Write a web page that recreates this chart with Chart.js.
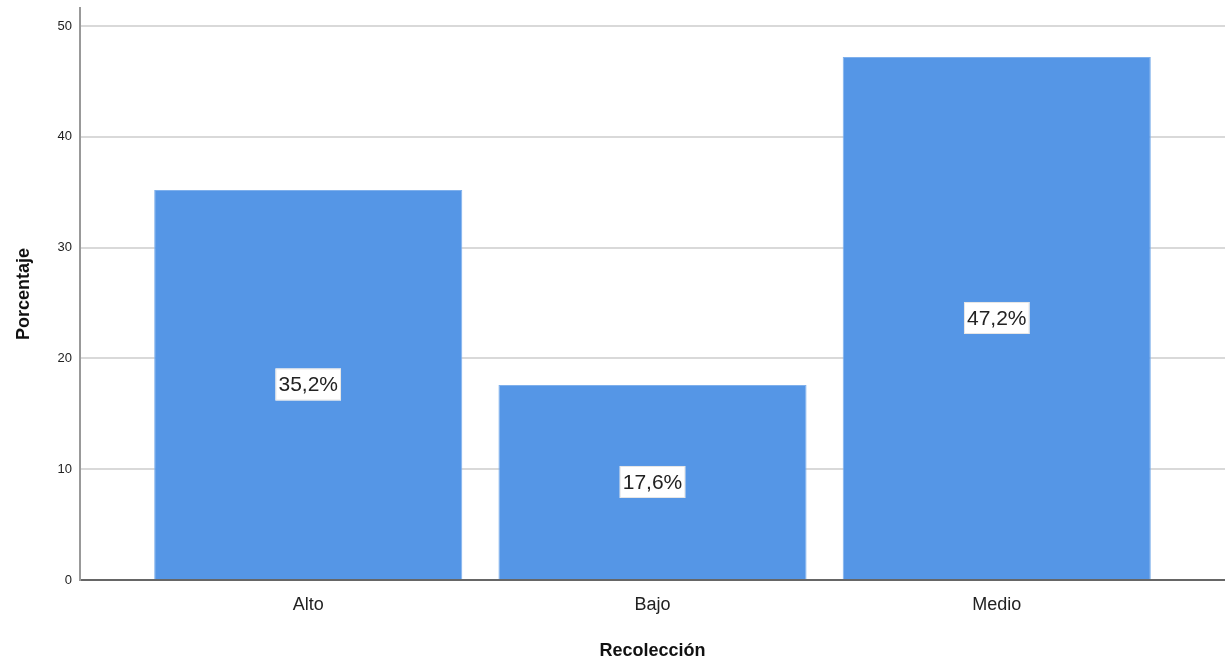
<!DOCTYPE html>
<html>
<head>
<meta charset="utf-8">
<script src="https://cdn.jsdelivr.net/npm/chart.js@4"></script>
<style>
  html, body { margin: 0; padding: 0; background: #fff; }
  #wrap { width: 1225px; height: 666px; }
</style>
</head>
<body>
<div id="wrap"><canvas id="chart" width="1225" height="666"></canvas></div>
<script>
// categories and percentages
const categories = ['Alto', 'Bajo', 'Medio'];
const percentages = [35.2, 17.6, 47.2];
const yTicks = [0, 10, 20, 30, 40, 50];

const fontFamily = '"Liberation Sans", Arial, sans-serif';

// white boxed value labels in the middle of each bar
const barLabels = {
  id: 'barLabels',
  afterDatasetsDraw(chart) {
    const ctx = chart.ctx;
    const meta = chart.getDatasetMeta(0);
    ctx.save();
    ctx.font = '21px ' + fontFamily;
    ctx.textAlign = 'center';
    ctx.textBaseline = 'middle';
    meta.data.forEach((bar, i) => {
      const txt = percentages[i].toFixed(1).replace('.', ',') + '%';
      const cy = (bar.y + bar.base) / 2;
      const w = ctx.measureText(txt).width + 6;
      const h = 32;
      ctx.fillStyle = '#ffffff';
      ctx.fillRect(bar.x - w / 2, cy - h / 2, w, h);
      ctx.strokeStyle = '#e6e6e6';
      ctx.lineWidth = 1;
      ctx.strokeRect(bar.x - w / 2 + 0.5, cy - h / 2 + 0.5, w - 1, h - 1);
      ctx.fillStyle = '#222';
      ctx.fillText(txt, bar.x, cy + 1);
    });
    ctx.restore();
  }
};

new Chart(document.getElementById('chart').getContext('2d'), {
  type: 'bar',
  data: {
    datasets: [{
      data: categories.map((c, i) => ({ x: i, y: percentages[i] })),
      backgroundColor: '#5596e6',
      borderColor: '#7fb0ec',
      borderWidth: 1,
      barPercentage: 0.895,
      categoryPercentage: 1
    }]
  },
  options: {
    responsive: false,
    animation: false,
    layout: { padding: { top: 8, right: 0, left: 0, bottom: 0 } },
    plugins: { legend: { display: false }, tooltip: { enabled: false } },
    scales: {
      x: {
        type: 'linear',
        offset: false,
        min: -0.663,
        max: 2.663,
        afterBuildTicks: s => { s.ticks = categories.map((c, i) => ({ value: i })); },
        afterFit: s => { s.height = 86; s.paddingLeft = 0; s.paddingRight = 0; },
        grid: { display: false, drawTicks: false },
        border: { display: true, color: '#666', width: 2 },
        ticks: {
          padding: 14,
          color: '#222',
          font: { size: 18, family: fontFamily },
          callback: v => categories[v]
        },
        title: {
          display: true,
          text: 'Recolección',
          color: '#111',
          font: { size: 18, weight: 'bold', family: fontFamily },
          padding: { top: 0, bottom: 4 }
        }
      },
      y: {
        min: 0,
        max: 51.62,
        afterBuildTicks: s => { s.ticks = yTicks.map(v => ({ value: v })); },
        afterFit: s => { s.width = 80; s.paddingTop = 0; s.paddingBottom = 0; },
        grid: { color: '#d9d9d9', lineWidth: 2, drawTicks: false },
        border: { display: true, color: '#999', width: 2 },
        ticks: {
          padding: 8,
          color: '#222',
          font: { size: 13, family: fontFamily }
        },
        title: {
          display: true,
          text: 'Porcentaje',
          color: '#111',
          font: { size: 18, weight: 'bold', family: fontFamily },
          padding: { top: 13, bottom: 0 }
        }
      }
    }
  },
  plugins: [barLabels]
});
</script>
</body>
</html>
